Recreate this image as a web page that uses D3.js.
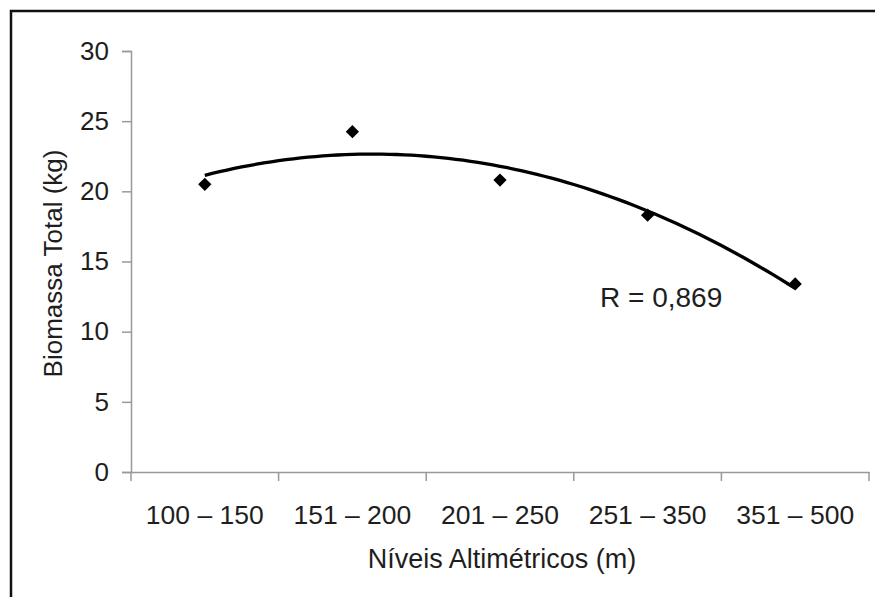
<!DOCTYPE html>
<html>
<head>
<meta charset="utf-8">
<script src="https://cdn.jsdelivr.net/npm/d3@7"></script>
<style>
  body { margin: 0; background: #fff; }
  svg { display: block; font-family: "Liberation Sans", Arial, sans-serif; }
</style>
</head>
<body>
<div id="chart"></div>
<script>
const categories = ["100 \u2013 150", "151 \u2013 200", "201 \u2013 250", "251 \u2013 350", "351 \u2013 500"];
const biomassa = [20.5, 24.25, 20.8, 18.3, 13.4];
const yTicks = [0, 5, 10, 15, 20, 25, 30];
const rLabel = "R = 0,869";

const width = 875, height = 597;
const plotLeft = 131, plotRight = 869, plotTop = 51, plotBottom = 472;

const svg = d3.select("#chart").append("svg")
    .attr("width", width)
    .attr("height", height);

// outer frame (cut by the window on right and bottom)
svg.append("rect")
    .attr("x", 11).attr("y", 11)
    .attr("width", 900).attr("height", 620)
    .attr("fill", "none")
    .attr("stroke", "#111")
    .attr("stroke-width", 2.5);

const x = d3.scaleBand().domain(categories).range([plotLeft, plotRight]).padding(0);
const y = d3.scaleLinear().domain([0, 30]).range([plotBottom, plotTop]);

// y axis
const yAxis = svg.append("g")
    .attr("transform", `translate(${plotLeft},0)`)
    .call(d3.axisLeft(y).tickValues(yTicks).tickSize(9).tickPadding(13));
yAxis.select(".domain").attr("stroke", "#999").attr("stroke-width", 1.5);
yAxis.selectAll(".tick line").attr("stroke", "#999").attr("stroke-width", 1.5);
yAxis.selectAll(".tick text")
    .attr("font-size", 26)
    .attr("fill", "#1e1e1e")
    .attr("font-family", "Liberation Sans, Arial, sans-serif");

// x axis: labels at category centres, ticks at the boundaries
const xAxis = svg.append("g")
    .attr("transform", `translate(0,${plotBottom})`)
    .call(d3.axisBottom(x).tickSize(0).tickPadding(33));
xAxis.select(".domain").attr("stroke", "#999").attr("stroke-width", 1.5);
xAxis.selectAll(".tick text")
    .attr("font-size", 26.5)
    .attr("fill", "#1e1e1e")
    .attr("font-family", "Liberation Sans, Arial, sans-serif");

const bounds = d3.range(categories.length + 1).map(i => plotLeft + i * x.step());
svg.append("g").selectAll("line")
    .data(bounds)
    .join("line")
    .attr("x1", d => d).attr("x2", d => d)
    .attr("y1", plotBottom).attr("y2", plotBottom + 9)
    .attr("stroke", "#999")
    .attr("stroke-width", 1.5);

// axis titles
svg.append("text")
    .attr("transform", `translate(62,${(plotTop + plotBottom) / 2 + 2}) rotate(-90)`)
    .attr("text-anchor", "middle")
    .attr("font-size", 26)
    .attr("fill", "#1e1e1e")
    .text("Biomassa Total (kg)");

svg.append("text")
    .attr("x", (plotLeft + plotRight) / 2 + 2)
    .attr("y", 568)
    .attr("text-anchor", "middle")
    .attr("font-size", 27)
    .attr("fill", "#1e1e1e")
    .text("N\u00edveis Altim\u00e9tricos (m)");

// polynomial (order 2) trendline fitted to the points, x = 1..n
const n = biomassa.length;
const xs = d3.range(1, n + 1);
const xm = d3.mean(xs);
const p1 = xs.map(v => v - xm);
const p2m = d3.mean(p1.map(v => v * v));
const p2 = p1.map(v => v * v - p2m);
const a0 = d3.mean(biomassa);
const b1 = d3.sum(p1.map((v, i) => v * biomassa[i])) / d3.sum(p1.map(v => v * v));
const c2 = d3.sum(p2.map((v, i) => v * biomassa[i])) / d3.sum(p2.map(v => v * v));
const fit = t => a0 + b1 * (t - xm) + c2 * ((t - xm) * (t - xm) - p2m);

const xCenter = t => x(categories[0]) + x.bandwidth() / 2 + (t - 1) * x.step();
const curve = d3.range(1, n + 0.001, 0.05).map(t => [xCenter(t), y(fit(t))]);

svg.append("path")
    .datum(curve)
    .attr("d", d3.line())
    .attr("fill", "none")
    .attr("stroke", "#000")
    .attr("stroke-width", 3.3);

// points
svg.append("g").selectAll("path")
    .data(biomassa)
    .join("path")
    .attr("transform", (d, i) => `translate(${x(categories[i]) + x.bandwidth() / 2},${y(d)}) rotate(45)`)
    .attr("d", d3.symbol(d3.symbolSquare, 88))
    .attr("fill", "#000");

svg.append("text")
    .attr("x", 600)
    .attr("y", 307)
    .attr("font-size", 28)
    .attr("fill", "#1e1e1e")
    .text(rLabel);
</script>
</body>
</html>
